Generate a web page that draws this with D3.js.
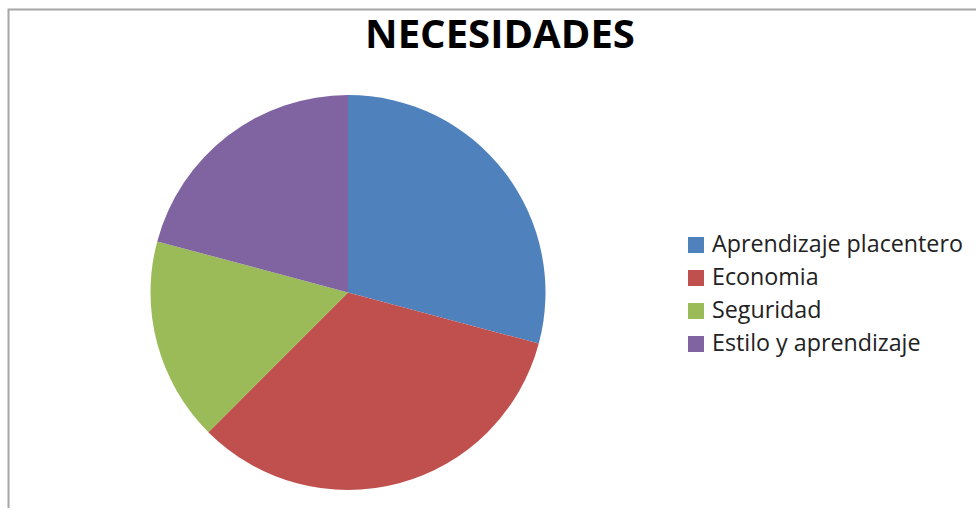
<!DOCTYPE html>
<html><head><meta charset="utf-8">
<script src="https://cdn.jsdelivr.net/npm/d3@7"></script>
<style>body{margin:0;background:#fff}svg{display:block}</style>
</head><body>
<svg id="chart" width="976" height="510"></svg>
<script>
const title = "NECESIDADES";
const categories = ["Aprendizaje placentero", "Economia", "Seguridad", "Estilo y aprendizaje"];
const values = [7, 8, 4, 5];
const colors = ["#4F81BD", "#C0504D", "#9BBB59", "#8064A2"];

const svg = d3.select("#chart");
// chart frame
svg.append("path")
  .attr("d", "M8.5,508 L8.5,9.5 L976,9.5")
  .attr("fill", "none").attr("stroke", "#a6a6a6").attr("stroke-width", 2);

// title
const t = svg.append("text").text(title)
  .attr("x", 500).attr("y", 48).attr("text-anchor", "middle")
  .style("font-family", "'Open Sans', 'Liberation Sans', sans-serif")
  .style("font-weight", 700).style("font-size", "32px").attr("fill", "#000");
const tw = t.node().getComputedTextLength();
if (tw > 0) t.style("font-size", (32 * 270 / tw) + "px");

// pie
const cx = 348, cy = 292.5, r = 197.5;
const pie = d3.pie().sort(null).value(d => d)(values);
const arc = d3.arc().innerRadius(0).outerRadius(r);
svg.append("g").attr("transform", `translate(${cx},${cy})`)
  .selectAll("path").data(pie).join("path")
  .attr("d", arc).attr("fill", (d, i) => colors[i]);

// legend
const y = d3.scalePoint().domain(categories).range([252, 351]);
const lg = svg.append("g");
categories.forEach((c, i) => {
  lg.append("rect").attr("x", 688).attr("y", y(c) - 15).attr("width", 16).attr("height", 16)
    .attr("fill", colors[i]);
  lg.append("text").text(c).attr("x", 712).attr("y", y(c))
    .style("font-family", "'Open Sans', 'Liberation Sans', sans-serif")
    .style("font-size", "18px").attr("fill", "#222").attr("class", "lt");
});
const first = lg.select("text.lt");
const w0 = first.node().getComputedTextLength();
if (w0 > 0) lg.selectAll("text.lt").style("font-size", (18 * 251 / w0) + "px");
</script>
</body></html>
